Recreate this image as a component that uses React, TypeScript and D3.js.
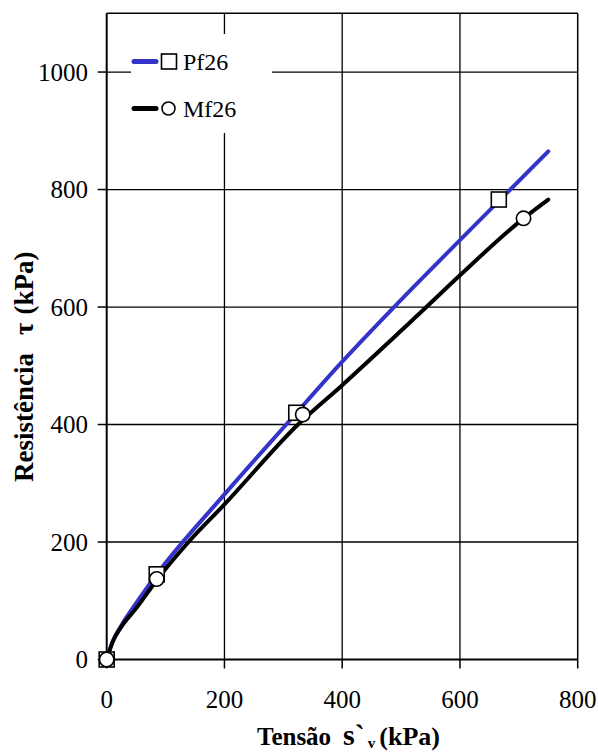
import React from "react";
import * as d3 from "d3";

const xTicks = [0, 200, 400, 600, 800];
const yTicks = [0, 200, 400, 600, 800, 1000];

// Pf26 fitted line
const pfLine: [number, number][] = [
  [0, 0], [10, 30], [25, 58], [50, 96], [85, 145], [200, 281],
  [305, 400], [400, 507], [488, 600], [600, 714], [750, 865],
];
// Mf26 fitted line
const mfLine: [number, number][] = [
  [0, 0], [10, 30], [25, 56], [50, 87], [85, 135], [139, 200], [200, 264],
  [325, 400], [400, 467], [543, 600], [600, 654], [708, 751], [750, 783],
];
const pfPoints: [number, number][] = [[0, 0], [85, 145], [322, 420], [666, 783]];
const mfPoints: [number, number][] = [[0, 0], [85, 137], [333, 417], [708, 751]];

const seriesNames = ["Pf26", "Mf26"];

export default function App() {
  const W = 598, H = 753;
  const left = 106.7, right = 577.7, top = 13.3, bottom = 659.5;
  const x = d3.scaleLinear().domain([0, 800]).range([left, right]);
  const y = d3.scaleLinear().domain([0, 1100]).range([bottom, top]);
  const line = d3.line<[number, number]>().x(d => x(d[0])).y(d => y(d[1])).curve(d3.curveMonotoneX);
  const blue = "#3434C8";
  const font = "Liberation Serif, serif";
  const sq = 15;

  return (
    <svg width={W} height={H} style={{ position: "absolute", left: 0, top: 0, fontFamily: font }}>
      <rect x={0} y={0} width={W} height={H} fill="#fff" />
      {/* grid */}
      {xTicks.filter(t => t > 0 && t < 800).map(t => (
        <line key={"gx" + t} x1={x(t)} x2={x(t)} y1={top} y2={bottom} stroke="#000" strokeWidth={1.3} />
      ))}
      {yTicks.filter(t => t > 0).map(t => (
        <line key={"gy" + t} x1={left} x2={right} y1={y(t)} y2={y(t)} stroke="#000" strokeWidth={1.3} />
      ))}
      {/* frame */}
      <line x1={left} x2={right} y1={top} y2={top} stroke="#000" strokeWidth={1.5} />
      <line x1={right} x2={right} y1={top} y2={bottom} stroke="#000" strokeWidth={1.5} />
      {/* legend background */}
      <rect x={131} y={34} width={141} height={99} fill="#fff" />
      {/* axes */}
      <line x1={left} x2={left} y1={top} y2={bottom} stroke="#000" strokeWidth={2} />
      <line x1={left} x2={right} y1={bottom} y2={bottom} stroke="#000" strokeWidth={2} />
      {yTicks.map(t => (
        <g key={"ty" + t}>
          <line x1={left - 9} x2={left} y1={y(t)} y2={y(t)} stroke="#000" strokeWidth={1.5} />
          <text x={88} y={y(t)} dy="0.35em" textAnchor="end" fontSize={25}>{t}</text>
        </g>
      ))}
      {xTicks.map(t => (
        <g key={"tx" + t}>
          <line x1={x(t)} x2={x(t)} y1={bottom} y2={bottom + 9} stroke="#000" strokeWidth={1.5} />
          <text x={x(t)} y={708} textAnchor="middle" fontSize={25}>{t}</text>
        </g>
      ))}
      {/* lines */}
      <path d={line(pfLine) || ""} fill="none" stroke={blue} strokeWidth={4} strokeLinejoin="round" strokeLinecap="round" />
      <path d={line(mfLine) || ""} fill="none" stroke="#000" strokeWidth={4} strokeLinejoin="round" strokeLinecap="round" />
      {/* markers */}
      {pfPoints.map((p, i) => (
        <rect key={"ps" + i} x={x(p[0]) - sq / 2} y={y(p[1]) - sq / 2} width={sq} height={sq} fill="#fff" stroke="#000" strokeWidth={1.6} />
      ))}
      {mfPoints.map((p, i) => (
        <circle key={"mc" + i} cx={x(p[0])} cy={y(p[1])} r={7.2} fill="#fff" stroke="#000" strokeWidth={1.6} />
      ))}
      {/* legend */}
      <line x1={134} x2={156} y1={61.5} y2={61.5} stroke={blue} strokeWidth={5} strokeLinecap="round" />
      <rect x={161.5} y={54} width={15} height={15} fill="#fff" stroke="#000" strokeWidth={1.6} />
      <text x={183} y={70} fontSize={24}>{seriesNames[0]}</text>
      <line x1={134} x2={156} y1={108.5} y2={108.5} stroke="#000" strokeWidth={5} strokeLinecap="round" />
      <circle cx={168.5} cy={108.5} r={6.5} fill="#fff" stroke="#000" strokeWidth={1.6} />
      <text x={183} y={117} fontSize={24}>{seriesNames[1]}</text>
      {/* axis titles */}
      <text x={257} y={745} fontSize={25} fontWeight="bold">
        Tensão<tspan dx={12} fontSize={30}>s`</tspan><tspan fontSize={15} dy={3} dx={3}>v</tspan><tspan dy={-3} dx={4} fontSize={26}>(kPa)</tspan>
      </text>
      <text transform="translate(33,482) rotate(-90)" fontSize={27} fontWeight="bold">
        Resistência<tspan dx={18}>τ</tspan><tspan dx={8}>(kPa)</tspan>
      </text>
    </svg>
  );
}
